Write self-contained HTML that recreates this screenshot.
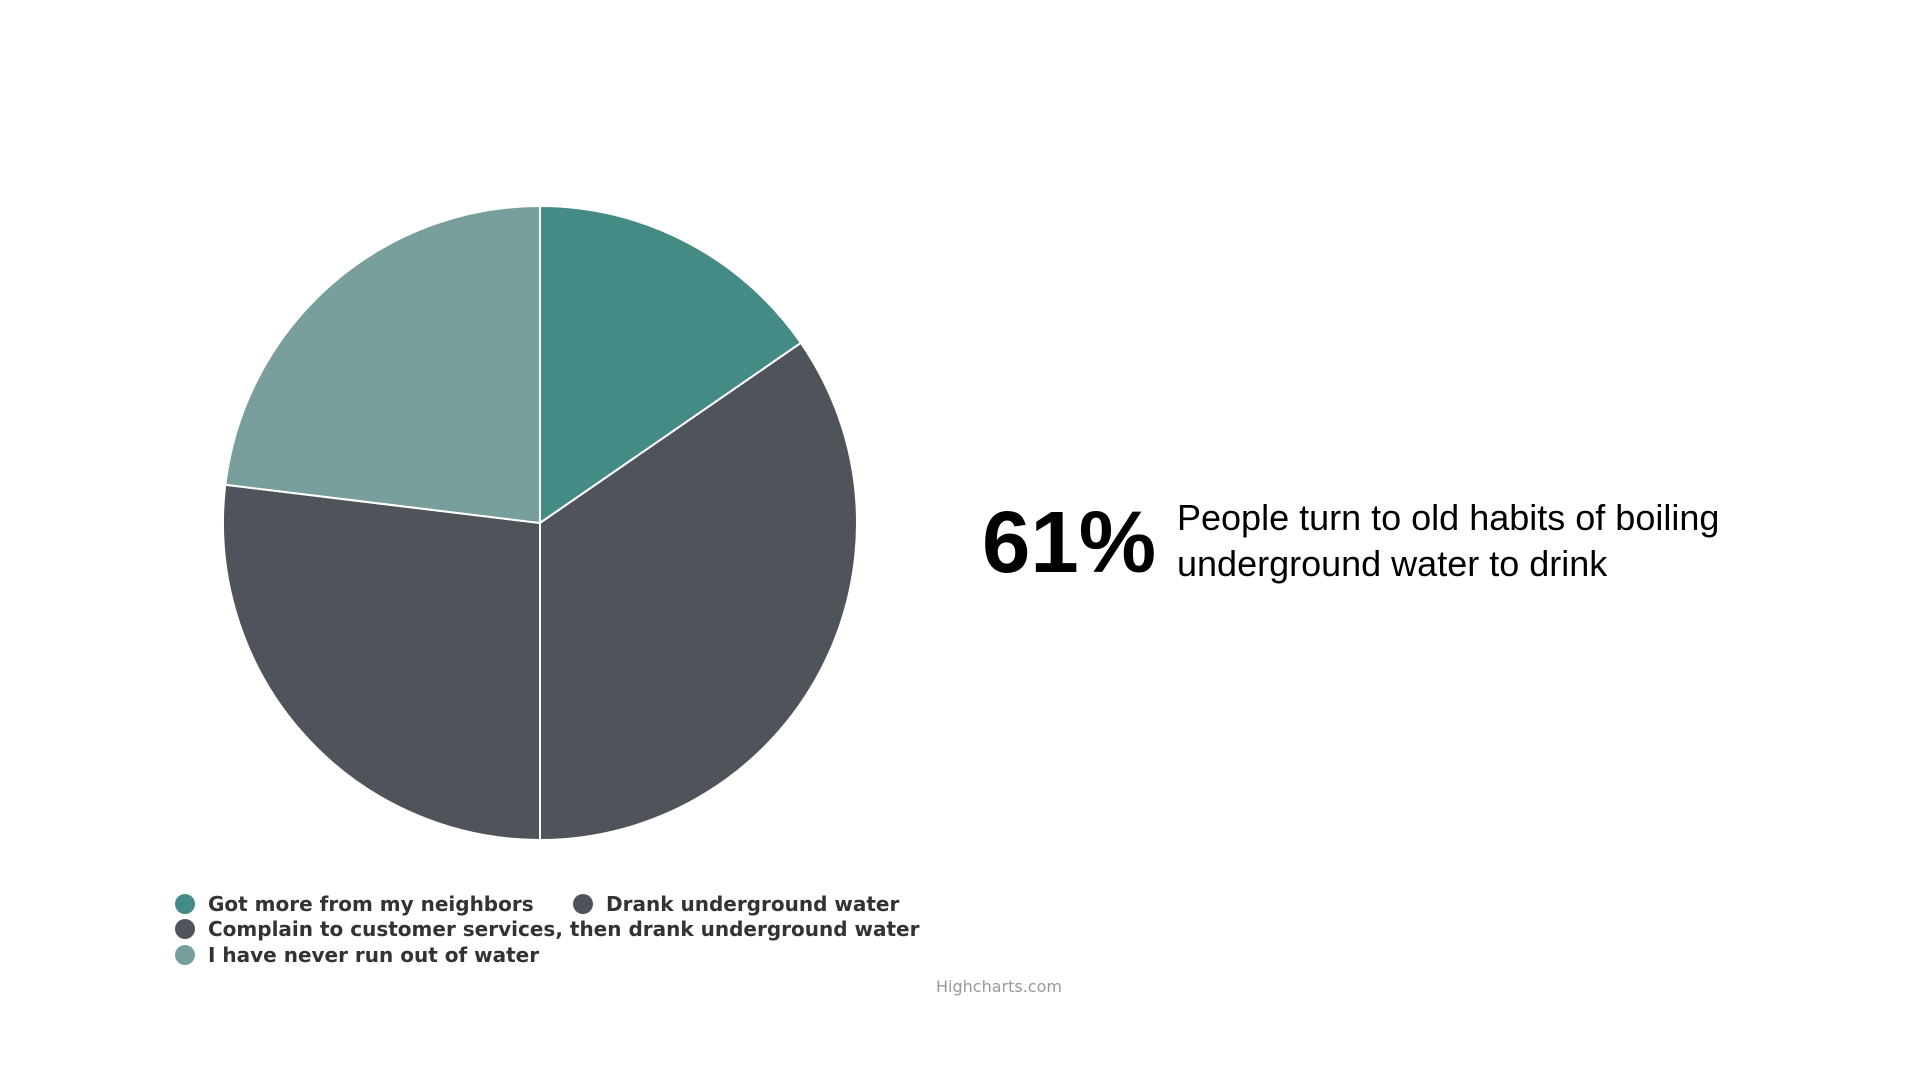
<!DOCTYPE html>
<html><head><meta charset="utf-8"><style>
html,body{margin:0;padding:0;background:#fff;width:1920px;height:1080px;overflow:hidden;}
svg{display:block;}
</style></head><body>
<svg id="chart" width="1920" height="1080">
<g id="slices"></g>
<g id="legend"></g>
<text x="982" y="572" font-family="Liberation Sans, sans-serif" font-weight="bold" font-size="87" fill="#000">61%</text>
<text font-family="Liberation Sans, sans-serif" font-size="36" fill="#000"><tspan x="1177" y="530">People turn to old habits of boiling</tspan><tspan x="1177" y="576">underground water to drink</tspan></text>
<text x="999" y="992" text-anchor="middle" font-family="DejaVu Sans, sans-serif" font-size="16" fill="#999">Highcharts.com</text>
</svg>
<script>
const categories = ["Got more from my neighbors","Drank underground water","Complain to customer services, then drank underground water","I have never run out of water"];
const values = [4, 9, 7, 6];
const colors = ["#448b85","#4f535a","#4f535a","#789f9c"];
const NS="http://www.w3.org/2000/svg";
const cx=540, cy=523, r=317;
const total=values.reduce((a,b)=>a+b,0);
let a0=0;
const g=document.getElementById('slices');
values.forEach((v,i)=>{
  const a1=a0+v/total*2*Math.PI;
  const x0=cx+r*Math.sin(a0), y0=cy-r*Math.cos(a0);
  const x1=cx+r*Math.sin(a1), y1=cy-r*Math.cos(a1);
  const large=(a1-a0)>Math.PI?1:0;
  const p=document.createElementNS(NS,'path');
  p.setAttribute('d',`M${cx},${cy} L${x0},${y0} A${r},${r} 0 ${large} 1 ${x1},${y1} Z`);
  p.setAttribute('fill',colors[i]);
  p.setAttribute('stroke','#fff');
  p.setAttribute('stroke-width','2');
  
  
  g.appendChild(p);
  a0=a1;
});
const lg=document.getElementById('legend');
const pos=[[185,904],[583,904],[185,929],[185,955]];
categories.forEach((c,i)=>{
  const m=document.createElementNS(NS,'circle');
  m.setAttribute('cx',pos[i][0]);m.setAttribute('cy',pos[i][1]);m.setAttribute('r',10);
  m.setAttribute('fill',colors[i]);
  
  
  lg.appendChild(m);
  const t=document.createElementNS(NS,'text');
  t.setAttribute('x',pos[i][0]+23);t.setAttribute('y',pos[i][1]+7);
  t.setAttribute('font-family','DejaVu Sans, sans-serif');
  t.setAttribute('font-weight','bold');t.setAttribute('font-size','20');
  t.setAttribute('fill','#333');
  t.textContent=c;
  
  
  lg.appendChild(t);
});
</script>
</body></html>
